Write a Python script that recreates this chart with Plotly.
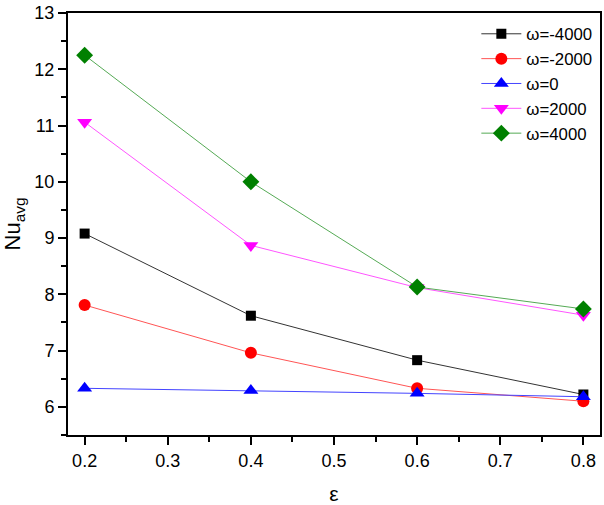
import plotly.graph_objects as go

eps = [0.2, 0.4, 0.6, 0.8]
nu_m4000 = [9.08, 7.62, 6.83, 6.22]
nu_m2000 = [7.81, 6.96, 6.33, 6.10]
nu_0 = [6.33, 6.29, 6.24, 6.18]
nu_p2000 = [11.06, 8.87, 8.12, 7.63]
nu_p4000 = [12.25, 10.0, 8.13, 7.74]
labels = ["ω=-4000", "ω=-2000", "ω=0", "ω=2000", "ω=4000"]

series = [nu_m4000, nu_m2000, nu_0, nu_p2000, nu_p4000]
markers = ["square", "circle", "triangle-up", "triangle-down", "diamond"]
mcolors = ["black", "red", "blue", "magenta", "#008000"]
lcolors = ["#333333", "#ff5555", "#4444ff", "#ff55ff", "#55aa55"]
msizes = [10, 12, 13, 13, 13]

fig = go.Figure()
for y, name, lc, mc, m, ms in zip(series, labels, lcolors, mcolors, markers, msizes):
    fig.add_trace(go.Scatter(
        x=eps, y=y, name=name, mode="lines+markers",
        line=dict(color=lc, width=1),
        marker=dict(symbol=m, size=ms, color=mc, line=dict(width=0)),
    ))

font = "Liberation Sans, Arial, sans-serif"
fig.update_layout(
    width=604, height=505,
    margin=dict(l=68, r=4, t=13, b=70),
    plot_bgcolor="white", paper_bgcolor="white",
    font=dict(family=font, size=18, color="black"),
    showlegend=True,
    legend=dict(x=0.995, y=0.992, xanchor="right", yanchor="top",
                bgcolor="rgba(0,0,0,0)", font=dict(size=16.8),
                itemwidth=40, tracegroupgap=0),
    xaxis=dict(range=[0.18, 0.82], tickvals=[0.2, 0.3, 0.4, 0.5, 0.6, 0.7, 0.8],
               ticktext=["0.2", "0.3", "0.4", "0.5", "0.6", "0.7", "0.8"],
               ticks="outside", ticklen=8, tickwidth=1.5, tickcolor="black",
               minor=dict(ticks="outside", ticklen=5, tickwidth=1.5, dtick=0.05, tick0=0.2, tickcolor="black"),
               showline=True, linecolor="black", linewidth=2, mirror=True,
               showgrid=False, zeroline=False, automargin=False,
               ticklabeloverflow="allow",
               title=dict(text="ε", font=dict(size=21), standoff=20)),
    yaxis=dict(range=[5.5, 13], tickvals=[6, 7, 8, 9, 10, 11, 12, 13],
               ticks="outside", ticklen=8, tickwidth=1.5, tickcolor="black",
               minor=dict(ticks="outside", ticklen=5, tickwidth=1.5, dtick=0.5, tick0=5.5, tickcolor="black"),
               showline=True, linecolor="black", linewidth=2, mirror=True,
               showgrid=False, zeroline=False, automargin=False,
               ticklabeloverflow="allow",
               title=dict(text="Nu<sub>avg</sub>", font=dict(size=22), standoff=8)),
)

fig.write_html("out.html", config={"displayModeBar": False},
               post_script="document.body.style.margin='0';")
